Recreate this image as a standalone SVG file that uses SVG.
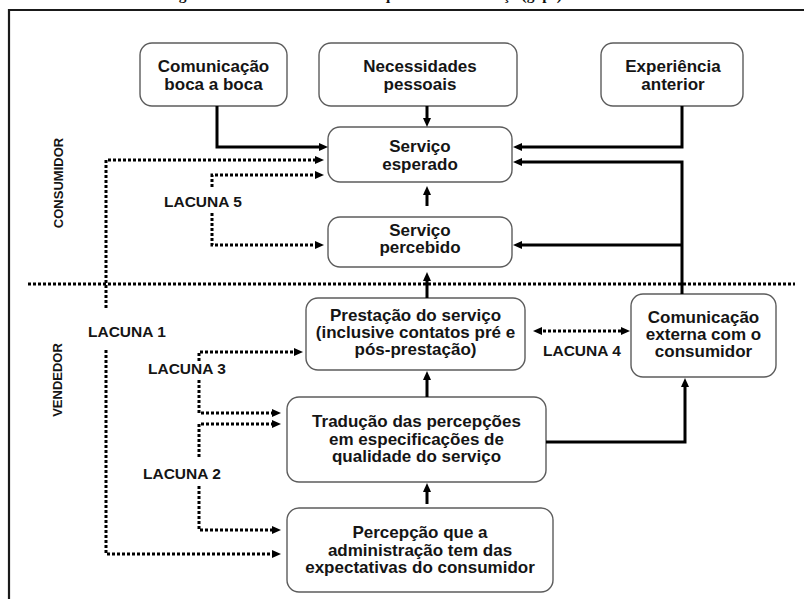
<svg xmlns="http://www.w3.org/2000/svg" width="804" height="599" viewBox="0 0 804 599">
  <style>
    .box { fill: #fff; stroke: #5c5c5c; stroke-width: 1.4; }
    .t { font-family: "Liberation Sans", Arial, sans-serif; font-weight: bold; font-size: 17px; fill: #151515; text-anchor: middle; }
    .lab { font-family: "Liberation Sans", Arial, sans-serif; font-weight: bold; font-size: 15.5px; fill: #151515; }
    .side { font-family: "Liberation Sans", Arial, sans-serif; font-weight: bold; font-size: 13px; fill: #151515; text-anchor: middle; }
    .s { fill: none; stroke: #000; stroke-width: 3; }
    .d { fill: none; stroke: #000; stroke-width: 3; stroke-dasharray: 3 2; }
    .frame { fill: none; stroke: #1a1a1a; stroke-width: 2.2; }
  </style>
  <defs>
    <marker id="ah" markerUnits="userSpaceOnUse" viewBox="0 0 9 8" markerWidth="9" markerHeight="8" refX="4" refY="4" orient="auto-start-reverse">
      <path d="M0,0 L9,4 L0,8 z" fill="#000"/>
    </marker>
  </defs>

  <rect width="804" height="599" fill="#fff"/>

  <!-- caption sitting above the top edge; only its descenders reach into view -->
  <g id="title">
    <text x="165" y="-0.5" font-family="Liberation Serif, Times New Roman, serif" font-weight="bold" font-size="15.5" fill="#111">Figura 2 - Modelo de lacunas na qualidade do serviço (gaps)</text>
  </g>

  <!-- outer frame -->
  <path class="frame" d="M804,10 H9 V599"/>

  <!-- side labels -->
  <g id="side-labels">
    <text class="side" x="63" y="183" transform="rotate(-90 63 183)">CONSUMIDOR</text>
    <text class="side" x="62" y="380" transform="rotate(-90 62 380)">VENDEDOR</text>
  </g>

  <!-- nodes -->
  <g id="boca-a-boca">
    <rect class="box" x="140" y="43" width="147" height="63" rx="12"/>
    <text class="t" x="213.5" y="72">Comunicação</text>
    <text class="t" x="213.5" y="89.5">boca a boca</text>
  </g>
  <g id="necessidades">
    <rect class="box" x="319" y="43" width="198" height="63" rx="12"/>
    <text class="t" x="420" y="72">Necessidades</text>
    <text class="t" x="420" y="89.5">pessoais</text>
  </g>
  <g id="experiencia">
    <rect class="box" x="601" y="43" width="142" height="63" rx="12"/>
    <text class="t" x="673" y="72">Experiência</text>
    <text class="t" x="673" y="89.5">anterior</text>
  </g>
  <g id="servico-esperado">
    <rect class="box" x="328" y="127" width="184" height="55" rx="12"/>
    <text class="t" x="420" y="152">Serviço</text>
    <text class="t" x="420" y="169.5">esperado</text>
  </g>
  <g id="servico-percebido">
    <rect class="box" x="328" y="217" width="184" height="50" rx="12"/>
    <text class="t" x="420" y="236">Serviço</text>
    <text class="t" x="420" y="253">percebido</text>
  </g>
  <g id="prestacao">
    <rect class="box" x="306" y="298" width="219" height="72" rx="12"/>
    <text class="t" x="415.5" y="321">Prestação do serviço</text>
    <text class="t" x="415.5" y="338">(inclusive contatos pré e</text>
    <text class="t" x="415.5" y="355">pós-prestação)</text>
  </g>
  <g id="comunicacao-externa">
    <rect class="box" x="631" y="294" width="145" height="83" rx="12"/>
    <text class="t" x="703.5" y="323">Comunicação</text>
    <text class="t" x="703.5" y="340">externa com o</text>
    <text class="t" x="703.5" y="357">consumidor</text>
  </g>
  <g id="traducao">
    <rect class="box" x="287" y="397" width="259" height="85" rx="12"/>
    <text class="t" x="416.5" y="427">Tradução das percepções</text>
    <text class="t" x="416.5" y="444.5">em especificações de</text>
    <text class="t" x="416.5" y="462">qualidade do serviço</text>
  </g>
  <g id="percepcao">
    <rect class="box" x="287" y="508" width="266" height="84" rx="12"/>
    <text class="t" x="420" y="538">Percepção que a</text>
    <text class="t" x="420" y="555.5">administração tem das</text>
    <text class="t" x="420" y="573">expectativas do consumidor</text>
  </g>

  <!-- gap labels -->
  <g id="gap-labels">
    <text class="lab" x="164" y="207">LACUNA 5</text>
    <text class="lab" x="88" y="337">LACUNA 1</text>
    <text class="lab" x="148" y="374">LACUNA 3</text>
    <text class="lab" x="143" y="479">LACUNA 2</text>
    <text class="lab" x="543" y="356">LACUNA 4</text>
  </g>

  <!-- connectors -->
  <g id="connectors">
    <!-- solid flows -->
    <path class="s" d="M217,106 V147 H323" marker-end="url(#ah)"/>
    <path class="s" d="M427,106 V122" marker-end="url(#ah)"/>
    <path class="s" d="M682,106 V147 H518" marker-end="url(#ah)"/>
    <path class="s" d="M682,294 V162 H518" marker-end="url(#ah)"/>
    <path class="s" d="M682,245 H518" marker-end="url(#ah)"/>
    <path class="s" d="M427,206 V191" marker-end="url(#ah)"/>
    <path class="s" d="M427,298 V277" marker-end="url(#ah)"/>
    <path class="s" d="M427,397 V376" marker-end="url(#ah)"/>
    <path class="s" d="M427,504 V488" marker-end="url(#ah)"/>
    <path class="s" d="M546,442 H685 V383" marker-end="url(#ah)"/>

    <!-- consumer / vendor divider -->
    <path class="d" d="M28,284 H795"/>

    <!-- gap brackets -->
    <path class="d" d="M106,308 V160 H319" marker-end="url(#ah)"/>
    <path class="d" d="M106,350 V554 H276" marker-end="url(#ah)"/>
    <path class="d" d="M212,187 V175 H319" marker-end="url(#ah)"/>
    <path class="d" d="M212,213 V245 H319" marker-end="url(#ah)"/>
    <path class="d" d="M199,361 V352 H298" marker-end="url(#ah)"/>
    <path class="d" d="M199,380 V413 H276" marker-end="url(#ah)"/>
    <path class="d" d="M199,457 V424 H276" marker-end="url(#ah)"/>
    <path class="d" d="M199,486 V530 H276" marker-end="url(#ah)"/>
    <path class="d" d="M538,331 H625" marker-start="url(#ah)" marker-end="url(#ah)"/>
  </g>
</svg>
